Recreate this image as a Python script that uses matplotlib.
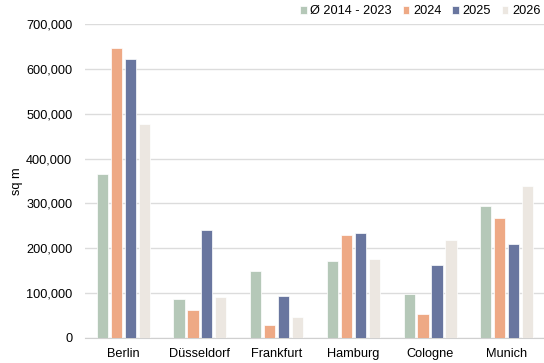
import numpy as np
import matplotlib.pyplot as plt
from matplotlib.ticker import FuncFormatter

plt.rcParams['font.family'] = ['Liberation Sans', 'DejaVu Sans']

cities = ['Berlin', 'Düsseldorf', 'Frankfurt', 'Hamburg', 'Cologne', 'Munich']
labels = ['Ø 2014 - 2023', '2024', '2025', '2026']
avg = [365000, 86000, 149000, 172000, 99000, 294000]
y2024 = [647000, 62000, 29000, 230000, 53000, 267000]
y2025 = [621000, 241000, 94000, 233000, 163000, 210000]
y2026 = [478000, 91000, 47000, 176000, 219000, 339000]
colors = ['#b5c8b8', '#eea985', '#69769f', '#ece7e1']

fig = plt.figure(figsize=(5.44, 3.63), dpi=100)
ax = fig.add_axes([0.156, 0.069, 0.846, 0.865])

x = np.arange(len(cities))
w = 0.182
for i, (vals, lab) in enumerate(zip([avg, y2024, y2025, y2026], labels)):
    ax.bar(x + (i - 1.5) * w, vals, w * 0.8, color=colors[i], label=lab,
           edgecolor='white', linewidth=0.5, zorder=3)

ax.set_xlim(-0.5, len(cities) - 0.5)
ax.set_ylim(0, 700000)
ax.set_yticks(np.arange(0, 700001, 100000))
ax.yaxis.set_major_formatter(FuncFormatter(lambda v, p: f'{int(v):,}'))
ax.set_xticks(x)
ax.set_xticklabels(cities)
ax.grid(axis='y', color='#dcdcdc', lw=1, zorder=0)
for s in ['top', 'right', 'left']:
    ax.spines[s].set_visible(False)
ax.spines['bottom'].set_color('#d0d0d0')
ax.tick_params(axis='y', length=0, labelsize=9.2, pad=9)
ax.tick_params(axis='x', length=0, labelsize=9.2, pad=7)
ax.set_ylabel('sq m', fontsize=9.2, labelpad=2)

ax.legend(loc='center right', bbox_to_anchor=(0.99, 1.04), ncol=4, frameon=False,
          fontsize=9.2, handlelength=0.5, handleheight=0.5, handletextpad=0.3,
          columnspacing=0.85, borderaxespad=0, borderpad=0)

fig.savefig('out.png', dpi=100)
